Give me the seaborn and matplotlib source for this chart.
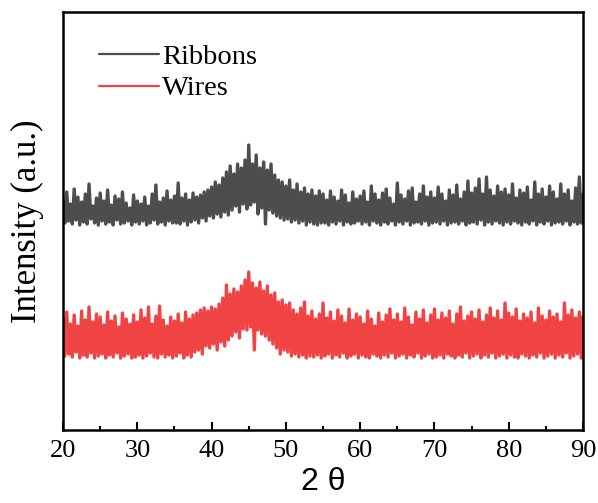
import numpy as np
import pandas as pd
import seaborn as sns
import matplotlib.pyplot as plt
from matplotlib.ticker import MultipleLocator

sns.set_style('ticks')
plt.rcParams['font.family'] = ['Liberation Serif', 'DejaVu Serif']
plt.rcParams['text.color'] = 'black'
plt.rcParams['axes.labelcolor'] = 'black'
plt.rcParams['xtick.color'] = 'black'
plt.rcParams['axes.edgecolor'] = 'black'

#2 theta grid, 0.25 deg steps from 20 to 90
two_theta = np.arange(281) * 0.25 + 20

#intensity values (arbitrary units)
ribbons = [
    230, 207, 238, 209, 226, 206, 241, 210, 233, 205, 228, 208, 236, 206, 246, 211, 224, 207, 232, 205,
    237, 209, 229, 206, 240, 208, 225, 205, 234, 210, 231, 206, 238, 207, 227, 209, 222, 205, 235, 208,
    229, 206, 226, 209, 233, 205, 224, 207, 236, 210, 245, 206, 228, 208, 232, 205, 239, 209, 230, 207,
    234, 207, 247, 206, 232, 209, 236, 205, 230, 208, 237, 210, 233, 207, 235, 212, 238, 209, 240, 214,
    243, 212, 248, 216, 245, 213, 252, 218, 258, 215, 264, 220, 256, 224, 266, 218, 262, 226, 270, 221,
    285, 225, 266, 228, 275, 216, 262, 222, 268, 206, 260, 220, 266, 217, 255, 214, 250, 212, 248, 210,
    244, 211, 250, 208, 240, 210, 246, 207, 238, 209, 242, 205, 236, 208, 240, 206, 234, 205, 239, 207,
    236, 207, 230, 205, 239, 208, 233, 206, 229, 209, 240, 205, 235, 208, 227, 206, 238, 207, 231, 209,
    234, 206, 239, 208, 228, 205, 244, 209, 236, 207, 230, 205, 237, 208, 241, 206, 232, 209, 226, 205,
    247, 208, 235, 206, 231, 209, 239, 205, 242, 207, 228, 208, 236, 206, 244, 209, 233, 205, 238, 207,
    232, 208, 243, 206, 236, 209, 229, 205, 240, 207, 235, 208, 245, 206, 231, 209, 238, 205, 249, 207,
    237, 208, 242, 206, 251, 210, 236, 205, 253, 208, 240, 206, 234, 209, 244, 207, 238, 205, 241, 208,
    235, 206, 246, 209, 232, 207, 240, 205, 237, 208, 243, 206, 230, 209, 248, 205, 236, 208, 241, 206,
    233, 209, 244, 205, 238, 207, 231, 208, 246, 206, 236, 209, 240, 205, 229, 208, 242, 206, 253, 207,
    236]

wires = [
    112, 74, 118, 76, 106, 73, 115, 78, 104, 72, 119, 75, 110, 73, 123, 77, 108, 72, 116, 74,
    113, 76, 105, 72, 118, 75, 109, 73, 114, 77, 103, 72, 117, 74, 111, 76, 106, 72, 115, 73,
    108, 75, 120, 72, 112, 74, 123, 77, 106, 73, 114, 72, 124, 76, 110, 73, 104, 75, 113, 72,
    109, 74, 116, 77, 107, 72, 118, 75, 111, 73, 115, 78, 117, 80, 120, 76, 122, 84, 119, 82,
    123, 86, 121, 80, 126, 88, 132, 84, 145, 90, 136, 94, 141, 98, 138, 92, 144, 101, 150, 100,
    158, 103, 147, 80, 142, 100, 148, 96, 139, 94, 144, 90, 135, 86, 137, 82, 128, 76, 130, 80,
    125, 78, 127, 74, 120, 76, 116, 73, 122, 75, 128, 72, 114, 74, 119, 73, 111, 75, 116, 72,
    127, 74, 112, 76, 118, 72, 109, 75, 120, 73, 114, 77, 107, 72, 121, 74, 110, 76, 116, 72,
    113, 75, 106, 73, 119, 72, 111, 76, 104, 74, 117, 72, 108, 75, 115, 73, 121, 77, 110, 72,
    116, 74, 108, 76, 122, 72, 113, 75, 105, 73, 118, 77, 111, 72, 120, 74, 107, 76, 115, 72,
    121, 73, 110, 75, 117, 72, 112, 76, 119, 74, 106, 72, 116, 75, 123, 73, 109, 77, 114, 72,
    118, 74, 111, 76, 120, 72, 108, 75, 115, 73, 122, 77, 112, 72, 119, 74, 110, 76, 127, 72,
    117, 75, 113, 73, 121, 72, 109, 76, 116, 74, 112, 72, 118, 75, 107, 73, 122, 77, 114, 72,
    110, 74, 119, 76, 113, 72, 116, 75, 108, 73, 127, 77, 115, 72, 120, 74, 112, 76, 118, 72,
    114]

series_names = ['Ribbons', 'Wires']
series_colors = {'Ribbons': '#4d4d4d', 'Wires': '#f04343'}

xrd_df = pd.DataFrame({'two_theta': np.concatenate([two_theta, two_theta]),
                       'intensity': ribbons + wires,
                       'sample': ['Ribbons'] * len(ribbons) + ['Wires'] * len(wires)})

fig = plt.figure(figsize=(5.98, 5.03), dpi=100)
ax = fig.add_axes([0.1054, 0.1451, 0.8696, 0.8310])

sns.lineplot(data=xrd_df, x='two_theta', y='intensity', hue='sample', hue_order=series_names,
             palette=series_colors, linewidth=2.4, estimator=None, ax=ax)

ax.set_xlim(20, 90)
ax.set_ylim(0, 418)
ax.xaxis.set_major_locator(MultipleLocator(10))
ax.xaxis.set_minor_locator(MultipleLocator(5))
ax.tick_params(axis='x', which='major', direction='in', length=6, width=1.5, labelsize=19, pad=7)
ax.tick_params(axis='x', which='minor', direction='in', length=3, width=1.5)
ax.set_yticks([])
for spine in ax.spines.values():
    spine.set_linewidth(1.8)

ax.set_xlabel('2 θ', fontsize=23, family='Liberation Sans', labelpad=4)
ax.set_ylabel('Intensity (a.u.)', fontsize=25, labelpad=14)

leg = ax.legend(loc='upper left', bbox_to_anchor=(0.02, 0.985), frameon=False, fontsize=20.5,
                handlelength=2.1, handletextpad=0.1, labelspacing=0.2, title=None)
for line in leg.get_lines():
    line.set_linewidth(1.6)

plt.savefig('out.png', dpi=100)
plt.close()
